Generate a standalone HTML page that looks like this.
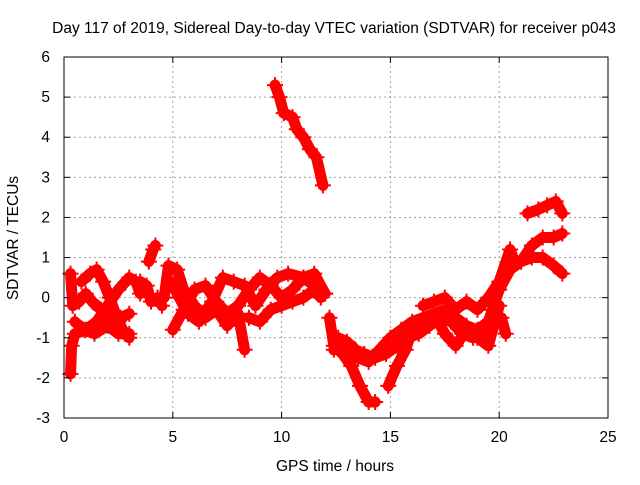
<!DOCTYPE html>
<html><head><meta charset="utf-8"><style>
body{margin:0;background:#fff}
svg text{font-family:"Liberation Sans",sans-serif;font-size:15.5px;fill:#000}
</style></head><body>
<svg id="chart" width="640" height="480" viewBox="0 0 640 480" xmlns="http://www.w3.org/2000/svg">
<rect width="640" height="480" fill="#fff"/>
<text x="334" y="33" text-anchor="middle">Day 117 of 2019, Sidereal Day-to-day VTEC variation (SDTVAR) for receiver p043</text>
<text x="335" y="471" text-anchor="middle">GPS time / hours</text>
<text transform="translate(18,238) rotate(-90)" text-anchor="middle">SDTVAR / TECUs</text>
<g id="grid"></g>
<g id="marks"></g>
<rect x="64" y="57" width="544" height="361" fill="none" stroke="#000" stroke-width="1"/>
<g id="ticks"></g>
</svg>
<script>
const xTicks=[0,5,10,15,20,25];
const yTicks=[-3,-2,-1,0,1,2,3,4,5,6];
const track1=[[0.3,-1.9],[0.35,-1.2],[0.5,-0.9],[1.0,-0.8],[1.5,-0.6],[2.0,-0.2],[2.5,0.2],[3.0,0.5],[3.3,0.4],[3.5,0.1]];
const track2=[[0.3,0.6],[0.4,-0.2],[0.7,-0.1],[1.0,0.1],[1.3,-0.1],[1.7,-0.3],[2.2,-0.6],[2.6,-0.5],[3.0,-0.4]];
const track3=[[0.8,0.4],[1.2,0.6],[1.5,0.7],[1.8,0.4],[2.1,0.0],[2.5,-0.6],[2.8,-0.9],[3.0,-1.0]];
const track4=[[0.5,-0.6],[0.9,-0.8],[1.4,-0.9],[2.0,-0.7],[2.5,-0.9],[3.0,-0.9]];
const track5=[[3.5,0.4],[3.8,0.3],[4.0,-0.1],[4.3,0.0],[4.5,-0.2]];
const track6=[[3.9,0.9],[4.1,1.2],[4.2,1.3]];
const track7=[[4.6,0.0],[4.8,0.8],[5.2,0.7],[5.5,0.2],[6.0,-0.2],[6.5,-0.5],[7.0,-0.3],[7.5,-0.7],[8.0,-0.4],[8.3,-1.3]];
const track8=[[4.9,0.4],[5.3,0.0],[5.7,-0.4],[6.2,-0.6],[6.8,-0.1],[7.3,0.5],[7.8,0.4],[8.3,0.3],[8.8,-0.2],[9.3,0.2],[9.8,0.5],[10.3,0.6],[11,0.5],[11.5,0.3],[12,0.1]];
const track9=[[5.0,-0.8],[5.5,-0.3],[6.0,0.2],[6.5,0.3],[7.0,-0.1],[7.5,-0.4],[8.0,-0.2],[8.5,0.2],[9.0,0.5],[9.5,0.3],[10,0.0],[10.5,0.2],[11,0.5],[11.5,0.6],[12,0.1]];
const track10=[[8.5,-0.5],[9.0,-0.6],[9.5,-0.3],[10,-0.2],[10.5,-0.1],[11,0.0],[11.5,0.2],[11.8,0.0]];
const track11=[[9.7,5.3],[9.9,5.0],[10.1,4.6],[10.5,4.5],[10.7,4.2],[11.0,4.0],[11.3,3.7],[11.6,3.5],[11.9,2.8]];
const track12=[[12.2,-0.5],[12.4,-1.2],[12.8,-1.4],[13.2,-1.7],[13.6,-2.2],[14.0,-2.6],[14.3,-2.6]];
const track13=[[12.4,-1.3],[13,-1.3],[13.5,-1.5],[14,-1.6],[14.5,-1.3],[15,-1.0],[15.5,-0.8],[16,-0.6],[16.5,-0.5],[17,-0.4],[17.5,-0.3],[18,-0.5],[18.5,-0.7],[19,-0.8],[19.5,-0.6],[20,0.2],[20.5,0.7],[21,0.9],[21.5,1.0],[22,1.0],[22.5,0.8],[22.9,0.6]];
const track14=[[14.9,-2.2],[15.3,-1.7],[15.7,-1.3],[16,-0.8],[16.5,-0.6],[17,-0.4],[17.5,-0.9],[18,-1.2],[18.5,-0.8],[19,-1.0],[19.5,-1.2],[19.8,-0.6],[20,-0.2]];
const track15=[[16.5,-0.2],[17,-0.1],[17.5,0.0],[18,-0.3],[18.5,-0.1],[19,-0.3],[19.5,0.0],[20,0.4],[20.5,1.2],[20.7,0.9],[21,0.9],[21.5,1.3],[22,1.5],[22.5,1.5],[22.9,1.6]];
const track16=[[20.1,-0.5],[20.3,-0.9]];
const track17=[[21.3,2.1],[21.8,2.2],[22.2,2.3],[22.6,2.4],[22.9,2.1]];
const track18=[[12.6,-1.0],[13.0,-1.1],[13.4,-1.3],[13.8,-1.4],[14.3,-1.5],[14.8,-1.4],[15.3,-1.2],[15.8,-1.0],[16.3,-0.9],[16.8,-0.7],[17.3,-0.5],[17.8,-0.6],[18.3,-0.9],[18.8,-1.0],[19.3,-0.9],[19.7,-0.3]];
const tracks=[track1,track2,track3,track4,track5,track6,track7,track8,track9,track10,track11,track12,track13,track14,track15,track16,track17,track18];

const NS='http://www.w3.org/2000/svg';
const X0=64,X1=608,Y0=418,Y1=57;
function xs(v){return X0+(v-0)/(25-0)*(X1-X0);}
function ys(v){return Y0-(v+3)/(9)*(Y0-Y1);}
function mk(t,a,p){const e=document.createElementNS(NS,t);for(const k in a)e.setAttribute(k,a[k]);p.appendChild(e);return e;}
const grid=document.getElementById('grid'),ticks=document.getElementById('ticks'),marks=document.getElementById('marks');
xTicks.forEach(t=>{
  const x=xs(t);
  if(t>0&&t<25){const g=mk('line',{x1:x,x2:x,y1:Y0,y2:Y1,stroke:'#a0a0a0','stroke-dasharray':'2,3'},grid);
  
  }
  mk('line',{x1:x,x2:x,y1:Y0,y2:Y0-6,stroke:'#000'},ticks);
  mk('line',{x1:x,x2:x,y1:Y1,y2:Y1+6,stroke:'#000'},ticks);
  const l=mk('text',{x:x,y:Y0+24,'text-anchor':'middle'},ticks);l.textContent=t;
  
  
});
yTicks.forEach(t=>{
  const y=ys(t);
  if(t>-3&&t<6){const g=mk('line',{x1:X0,x2:X1,y1:y,y2:y,stroke:'#a0a0a0','stroke-dasharray':'2,3'},grid);
  
  }
  mk('line',{x1:X0,x2:X0+6,y1:y,y2:y,stroke:'#000'},ticks);
  mk('line',{x1:X1,x2:X1-6,y1:y,y2:y,stroke:'#000'},ticks);
  const l=mk('text',{x:X0-14,y:y+5,'text-anchor':'end'},ticks);l.textContent=t;
  
  
});
tracks.forEach(tr=>{
  const pts=tr.map(p=>xs(p[0])+','+ys(p[1])).join(' ');
  const pl=mk('polyline',{points:pts,fill:'none',stroke:'#f00','stroke-width':11,'stroke-linejoin':'round','stroke-linecap':'round'},marks);
  
  
  tr.forEach(p=>{
    const x=xs(p[0]),y=ys(p[1]);
    const m=mk('path',{d:`M${x-8},${y}H${x+8}M${x},${y-8}V${y+8}`,stroke:'#f00','stroke-width':2},marks);
    
    
  });
});
</script>
</body></html>
